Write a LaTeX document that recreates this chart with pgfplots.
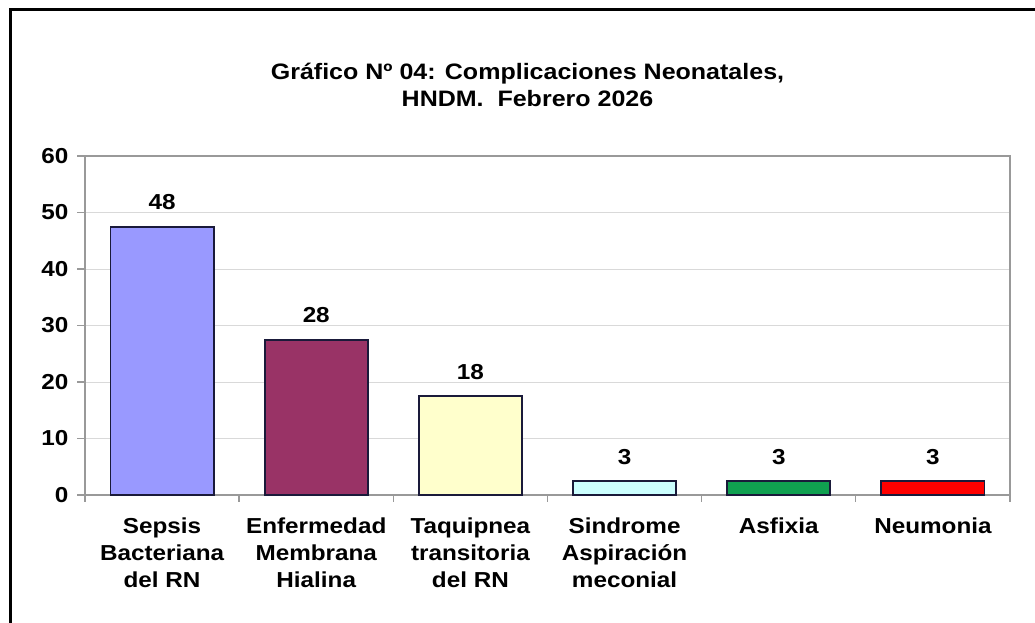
\documentclass[border=0pt]{standalone}
\usepackage{fontspec}
\setmainfont{Liberation Sans}[FakeStretch=1.12]
\usepackage{pgfplots}
\pgfplotsset{compat=1.18}
\definecolor{cA}{HTML}{9999FF}
\definecolor{cB}{HTML}{993366}
\definecolor{cC}{HTML}{FFFFCC}
\definecolor{cD}{HTML}{CCFFFF}
\definecolor{cE}{HTML}{10A050}
\definecolor{cF}{HTML}{FF0000}
\definecolor{barline}{HTML}{1A1A3A}
\begin{document}
\begin{tikzpicture}
\path[use as bounding box] (0pt,0pt) rectangle (621pt,-373.8pt);
\draw[line width=1.8pt] (6pt,-373.8pt) -- (6pt,-6pt) -- (621pt,-6pt);
\node[align=center,font=\bfseries\fontsize{13.4}{16.5}\selectfont] at (316.5pt,-51pt) {Gráfico Nº 04: Complicaciones Neonatales,\\HNDM.\ \ Febrero 2026};
\begin{axis}[
  at={(51pt,-297pt)}, anchor=south west,
  scale only axis, width=555pt, height=203.4pt,
  ybar, bar width=0.67, bar shift=0pt,
  xmin=-0.5, xmax=5.5, ymin=0, ymax=60,
  ytick={0,10,...,60},
  xtick={0,...,5},
  xticklabels={{Sepsis\\Bacteriana\\del RN},{Enfermedad\\Membrana\\Hialina},{Taquipnea\\transitoria\\del RN},{Sindrome\\Aspiración\\meconial},{Asfixia},{Neumonia}},
  x tick label style={align=center, anchor=north, yshift=-5.5pt, font=\bfseries\fontsize{13}{16.2}\selectfont},
  y tick label style={font=\bfseries\fontsize{13}{16}\selectfont, xshift=-2pt},
  /pgf/number format/assume math mode=true,
  major x tick style={draw=none},
  minor xtick={-0.5,0.5,...,5.5},
  minor tick length=4pt,
  major tick length=4.5pt,
  tick align=outside,
  xtick pos=bottom, ytick pos=left,
  axis line style={draw=gray!80, line width=1pt},
  every tick/.style={draw=gray!80, line width=0.8pt},
  ymajorgrids, grid style={draw=gray!30, line width=0.6pt},
  point meta=explicit symbolic,
  nodes near coords,
  every node near coord/.append style={font=\bfseries\fontsize{13}{16}\selectfont, black, yshift=6pt},
  clip=false,
]
\addplot[fill=cA, draw=barline, line width=1.1pt] coordinates {(0,47.5)[48]};
\addplot[fill=cB, draw=barline, line width=1.1pt] coordinates {(1,27.5)[28]};
\addplot[fill=cC, draw=barline, line width=1.1pt] coordinates {(2,17.5)[18]};
\addplot[fill=cD, draw=barline, line width=1.1pt] coordinates {(3,2.5)[3]};
\addplot[fill=cE, draw=barline, line width=1.1pt] coordinates {(4,2.5)[3]};
\addplot[fill=cF, draw=barline, line width=1.1pt] coordinates {(5,2.5)[3]};
\end{axis}
\end{tikzpicture}
\end{document}
